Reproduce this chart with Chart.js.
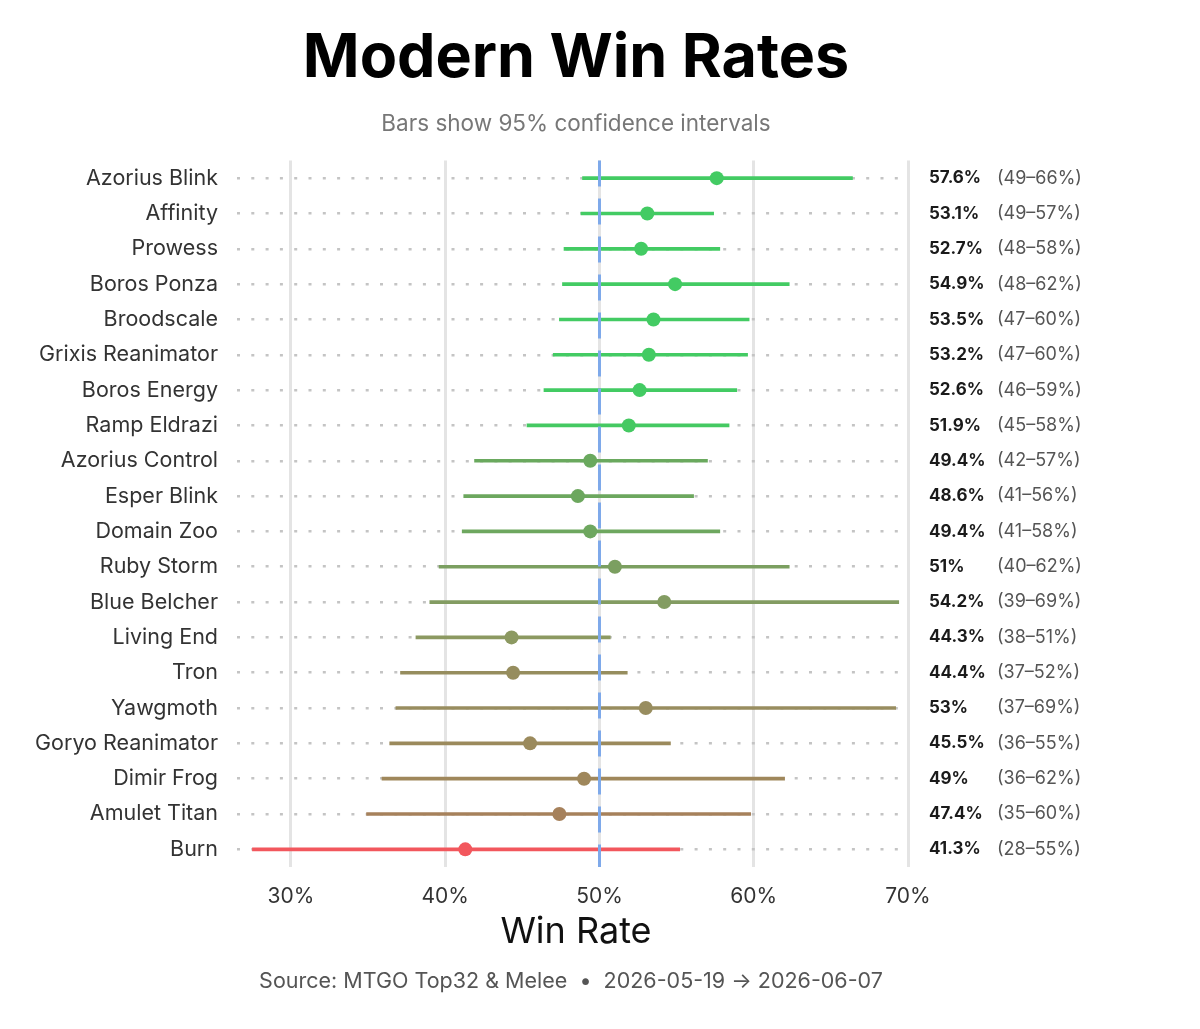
<!DOCTYPE html>
<html>
<head>
<meta charset="utf-8">
<script src="https://cdn.jsdelivr.net/npm/chart.js@4.4.1/dist/chart.umd.min.js"></script>
<style>
  html, body { margin: 0; padding: 0; background: #fff; }
  #wrap { width: 1200px; height: 1029px; }
</style>
</head>
<body>
<div id="wrap"><canvas id="chart" width="1200" height="1029"></canvas></div>
<script>
/* ---------- data ---------- */
const decks = [
  'Azorius Blink', 'Affinity', 'Prowess', 'Boros Ponza', 'Broodscale',
  'Grixis Reanimator', 'Boros Energy', 'Ramp Eldrazi', 'Azorius Control', 'Esper Blink',
  'Domain Zoo', 'Ruby Storm', 'Blue Belcher', 'Living End', 'Tron',
  'Yawgmoth', 'Goryo Reanimator', 'Dimir Frog', 'Amulet Titan', 'Burn'
];
const winRate = [57.6, 53.1, 52.7, 54.9, 53.5, 53.2, 52.6, 51.9, 49.4, 48.6,
                 49.4, 51.0, 54.2, 44.3, 44.4, 53.0, 45.5, 49.0, 47.4, 41.3];
const ciLow   = [48.9, 48.8, 47.7, 47.6, 47.4, 47.0, 46.4, 45.3, 41.9, 41.2,
                 41.1, 39.6, 39.0, 38.1, 37.1, 36.8, 36.4, 35.9, 34.9, 27.5];
const ciHigh  = [66.4, 57.4, 57.8, 62.3, 59.7, 59.6, 58.9, 58.4, 57.0, 56.1,
                 57.8, 62.3, 69.4, 50.7, 51.8, 69.2, 54.6, 62.0, 59.8, 55.2];
const xTicks = [30, 40, 50, 60, 70];
const breakEven = 50;

/* ---------- styling ---------- */
const rowColors = [
  '#43cb63', '#43cb63', '#43cb63', '#43cb63', '#43cb63',
  '#43cb63', '#43cb63', '#45c962', '#6aa95e', '#6ca75e',
  '#6ea75f', '#7b9f60', '#839c62', '#8c9961', '#968d5e',
  '#988d5f', '#9b8a5c', '#9f875b', '#a6815b', '#f2575d'
];
const FONT = 'Inter, "Noto Sans", sans-serif';
const CENTER_X = 576;

const fmtPct = (v) => (Math.round(v * 10) / 10).toString() + '%';

/* text outside the plot: title, subtitle, axis title, source line, right-hand labels */
const annotations = {
  id: 'annotations',
  afterDatasetDraw(chart, args) {
    if (args.index !== 0) return;
    // dashed 50% reference line, over the bars but under the dots
    const { ctx, chartArea, scales } = chart;
    const x = scales.x.getPixelForValue(breakEven);
    ctx.save();
    ctx.strokeStyle = '#7ea9ea';
    ctx.lineWidth = 3;
    ctx.setLineDash([26, 12]);
    ctx.beginPath();
    ctx.moveTo(x, chartArea.top);
    ctx.lineTo(x, chartArea.bottom);
    ctx.stroke();
    ctx.restore();
  },
  afterDraw(chart) {
    const { ctx, chartArea, scales } = chart;
    ctx.save();
    ctx.textAlign = 'center';
    ctx.textBaseline = 'middle';

    ctx.fillStyle = '#000';
    ctx.font = `bold 61px ${FONT}`;
    ctx.fillText('Modern Win Rates', CENTER_X, 59);

    ctx.fillStyle = '#777';
    ctx.font = `22.5px ${FONT}`;
    ctx.fillText('Bars show 95% confidence intervals', CENTER_X, 124);

    ctx.fillStyle = '#111';
    ctx.font = `36px ${FONT}`;
    ctx.fillText('Win Rate', CENTER_X, 932);

    ctx.fillStyle = '#555';
    ctx.font = `21.5px ${FONT}`;
    ctx.fillText('Source: MTGO Top32 & Melee  \u2022  2026-05-19 \u2192 2026-06-07', 571, 982);

    // per-row value + interval
    ctx.textAlign = 'left';
    decks.forEach((d, i) => {
      const y = scales.y.getPixelForValue(i);
      ctx.fillStyle = '#1a1a1a';
      ctx.font = `bold 17px ${FONT}`;
      ctx.fillText(fmtPct(winRate[i]), chartArea.right + 21, y);
      ctx.fillStyle = '#555';
      ctx.font = `18px ${FONT}`;
      ctx.fillText(`(${Math.round(ciLow[i])}\u2013${Math.round(ciHigh[i])}%)`, chartArea.right + 89, y);
    });
    ctx.restore();
  }
};

new Chart(document.getElementById('chart'), {
  type: 'bar',
  data: {
    labels: decks,
    datasets: [
      {
        label: '95% CI',
        data: decks.map((_, i) => [ciLow[i], ciHigh[i]]),
        backgroundColor: rowColors,
        borderWidth: 0,
        borderSkipped: false,
        barThickness: 3,
        order: 2,
      },
      {
        type: 'line',
        label: 'Win rate',
        indexAxis: 'y',
        data: winRate,
        showLine: false,
        pointRadius: 7,
        pointHoverRadius: 7,
        pointBackgroundColor: rowColors,
        pointBorderWidth: 0,
        order: 1,
      },
    ],
  },
  options: {
    indexAxis: 'y',
    responsive: false,
    animation: false,
    layout: { padding: { top: 160.5, right: 292, bottom: 0, left: 0 } },
    plugins: {
      legend: { display: false },
      tooltip: { enabled: false },
    },
    scales: {
      x: {
        type: 'linear',
        min: 26.5,
        max: 70,
        afterBuildTicks: (scale) => { scale.ticks = xTicks.map((v) => ({ value: v })); },
        afterFit: (scale) => { scale.height = 162; },
        grid: { color: '#e4e4e4', lineWidth: 3, drawTicks: false },
        border: { display: false },
        ticks: {
          color: '#333',
          font: { family: FONT, size: 21 },
          padding: 17,
          callback: (v) => v + '%',
        },
      },
      y: {
        type: 'category',
        offset: true,
        afterFit: (scale) => { scale.width = 237; },
        grid: { color: '#c4c4c4', lineWidth: 2.5, drawTicks: false, offset: false },
        border: { display: false, dash: [3, 11.3] },
        ticks: {
          color: '#333',
          font: { family: FONT, size: 21.5 },
          padding: 19,
        },
      },
    },
  },
  plugins: [annotations],
});
</script>
</body>
</html>
